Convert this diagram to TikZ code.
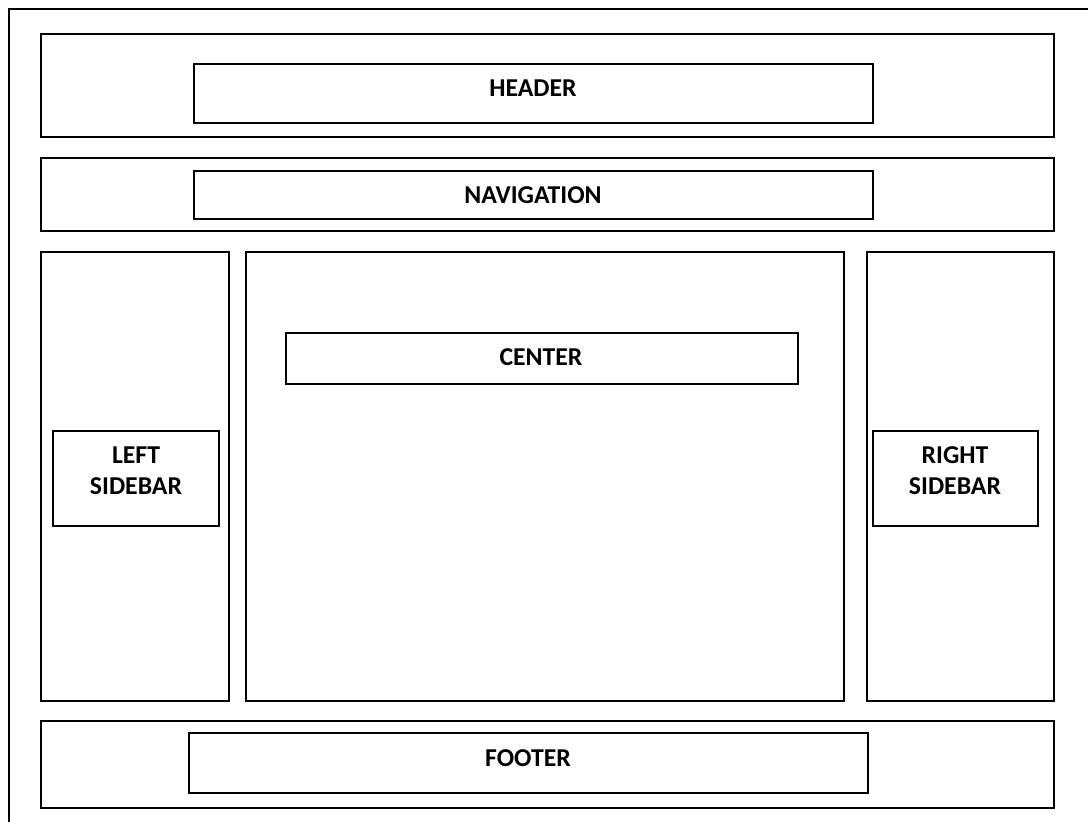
\documentclass[tikz,border=0pt]{standalone}
\usepackage{fontspec}
\setmainfont{Carlito}
\usetikzlibrary{positioning}

\begin{document}
\begin{tikzpicture}
[x=0.025cm, y=-0.025cm,
    font=\fontsize{18.3}{22}\selectfont\bfseries,
    every node/.style={rectangle, draw=black, line width=1.4pt,
        inner sep=0pt, align=center},
    region/.style={minimum width=#1},
    block/.style={minimum width=#1},
    caption/.style={draw=none},
    ]
    \useasboundingbox (0,0) rectangle (1088,822);

    % page frame, runs off the page on the right and bottom
    \coordinate (frameTR) at (1088,9);
    \coordinate (frameTL) at (9,9);
    \coordinate (frameBL) at (9,822);
    \draw[line width=1.4pt] (frameTR) -- (frameTL) -- (frameBL);

    % outer regions
    \node[region=1013*0.025cm, minimum height=103*0.025cm] (headerrect) at (547.5,85.5) {};
    \node[region=1013*0.025cm, minimum height=73*0.025cm] (navrect) at (547.5,194.5) {};
    \node[region=188*0.025cm, minimum height=449*0.025cm] (leftrect) at (135,476.5) {};
    \node[region=598*0.025cm, minimum height=449*0.025cm] (centerrect) at (545,476.5) {};
    \node[region=187*0.025cm, minimum height=449*0.025cm] (rightrect) at (960.5,476.5) {};
    \node[region=1013*0.025cm, minimum height=87*0.025cm] (footerrect) at (547.5,764.5) {};

    % inner blocks
    \node[block=679*0.025cm, minimum height=59*0.025cm] (header) at (533.5,93.5) {};
    \node[block=679*0.025cm, minimum height=48*0.025cm] (nav) at (533.5,195) {};
    \node[block=166*0.025cm, minimum height=95*0.025cm] (leftbar) at (136,478.5) {};
    \node[block=512*0.025cm, minimum height=51*0.025cm] (center) at (542,358.5) {};
    \node[block=165*0.025cm, minimum height=95*0.025cm] (rightbar) at (955.5,478.5) {};
    \node[block=679*0.025cm, minimum height=60*0.025cm] (footer) at (528.5,763) {};

    % captions
    \node[caption] (headertext) at (533,88) {HEADER};
    \node[caption] (navtext) at (533,195) {NAVIGATION};
    \node[caption] (lefttext) at (136,470.5) {LEFT\\SIDEBAR};
    \node[caption] (centertext) at (541,357.5) {CENTER};
    \node[caption] (righttext) at (955,470.5) {RIGHT\\SIDEBAR};
    \node[caption] (footertext) at (528,758) {FOOTER};

\end{tikzpicture}
\end{document}
